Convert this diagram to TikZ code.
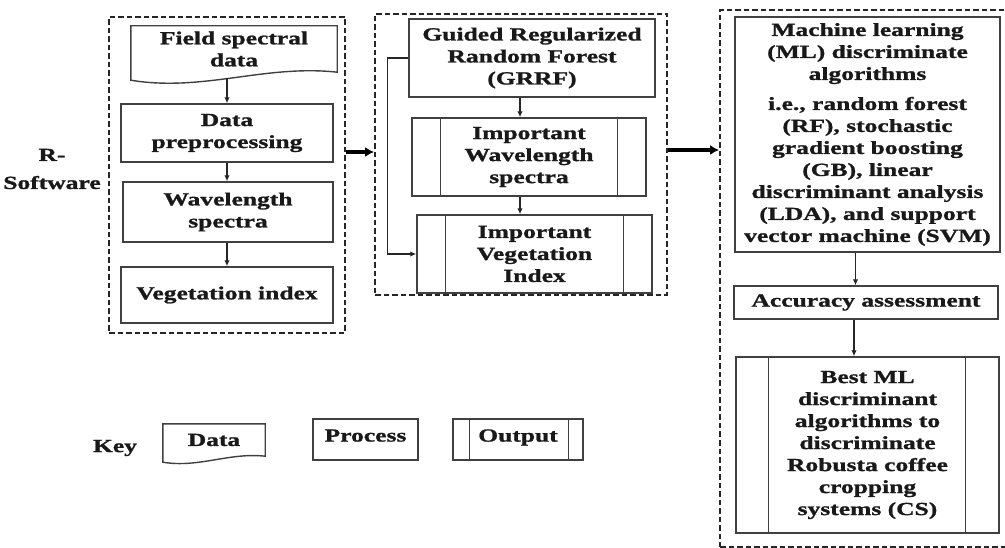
\documentclass[tikz,border=0pt]{standalone}
\usepackage{fontspec}
\setmainfont{Liberation Serif}[FakeStretch=1.38, BoldFeatures={FakeBold=1.2}]
\usetikzlibrary{arrows.meta}
\begin{document}
\begin{tikzpicture}[x=1pt,y=-1pt,
  txt/.style={font=\fontsize{18.5}{22}\selectfont\bfseries, align=center, inner sep=0pt, text=black!90},
  box/.style={txt, draw=black!75, line width=1.4pt},
  ghost/.style={txt, draw=none},
  shapeline/.style={draw=black!75, line width=1.4pt},
  grp/.style={draw=black!85, line width=1.8pt, dash pattern=on 5.5pt off 3pt, inner sep=0pt},
  arr/.style={-{Latex[length=6pt,width=5.5pt]}, line width=1.4pt, black!85},
  bigarr/.style={-{Latex[length=9pt,width=10pt]}, line width=3.8pt}]
\useasboundingbox (0,0) rectangle (1005,548);

% group boxes
\node[grp, minimum width=236pt, minimum height=316pt] (lbox) at (227,175) {};
\node[grp, minimum width=292pt, minimum height=281pt] (mbox) at (521,154.5) {};
\node[grp, minimum width=290pt, minimum height=537pt] (rbox) at (865,278.5) {};

\node[txt] (rs) at (52,169) {R-\\[6pt]Software};

% left column
\node[ghost, minimum width=206pt, minimum height=46pt] (fsd) at (234,49) {Field spectral\\data};
\draw[shapeline] (fsd.north west) -- (fsd.north east) -- (fsd.south east)
  .. controls +(-72,-8) and +(72,12) .. ([yshift=-8pt]fsd.south west) -- cycle;
\node[box, minimum width=212pt, minimum height=58pt] (dp) at (227,133) {Data\\preprocessing};
\node[box, minimum width=210pt, minimum height=60pt] (ws) at (228,212) {Wavelength\\spectra};
\node[box, minimum width=212pt, minimum height=56pt] (vi) at (227,295) {Vegetation index};

\draw[arr] ([yshift=-6pt]fsd.south -| dp.north) -- (dp.north);
\draw[arr] (dp.south) -- (dp.south |- ws.north);
\draw[arr] (ws.south -| vi.north) -- (vi.north);

% middle column
\node[box, minimum width=246pt, minimum height=78pt] (grrf) at (532,58) {Guided Regularized\\Random Forest\\(GRRF)};
\node[box, minimum width=234pt, minimum height=78pt] (iws) at (529,157) {Important\\Wavelength\\spectra};
\draw[shapeline] ([xshift=29pt]iws.north west) -- ([xshift=29pt]iws.south west);
\draw[shapeline] ([xshift=-29pt]iws.north east) -- ([xshift=-29pt]iws.south east);
\node[box, minimum width=235pt, minimum height=78pt] (ivi) at (534.5,254) {Important\\Vegetation\\Index};
\draw[shapeline] ([xshift=29pt]ivi.north west) -- ([xshift=29pt]ivi.south west);
\draw[shapeline] ([xshift=-29pt]ivi.north east) -- ([xshift=-29pt]ivi.south east);

\draw[arr] ([xshift=-9pt]iws.north |- grrf.south) -- ([xshift=-9pt]iws.north);
\draw[arr] ([xshift=-9pt]iws.south) -- ([xshift=-9pt]iws.south |- ivi.north);
\draw[arr] (grrf.west) -- ++(-21,0) |- (ivi.west);

% right column
\node[box, minimum width=265pt, minimum height=235pt] (ml) at (867.5,134.5) {Machine learning\\(ML) discriminate\\algorithms\\[8pt]i.e., random forest\\(RF), stochastic\\gradient boosting\\(GB), linear\\discriminant analysis\\(LDA), and support\\vector machine (SVM)};
\node[box, minimum width=264pt, minimum height=33pt] (aa) at (866,302.5) {Accuracy assessment};
\node[box, minimum width=263pt, minimum height=176pt] (best) at (867.5,445) {Best ML\\discriminant\\algorithms to\\discriminate\\Robusta coffee\\cropping\\systems (CS)};
\draw[shapeline] ([xshift=33pt]best.north west) -- ([xshift=33pt]best.south west);
\draw[shapeline] ([xshift=-34pt]best.north east) -- ([xshift=-34pt]best.south east);

\draw[arr] ([xshift=-12pt]ml.south) -- ([xshift=-12pt]ml.south |- aa.north);
\draw[arr] ([xshift=-12pt]aa.south) -- ([xshift=-12pt]aa.south |- best.north);

% big arrows
\draw[bigarr] ([yshift=23pt]lbox.east) -- ([yshift=23pt]lbox.east -| mbox.west);
\draw[bigarr] ([yshift=4.5pt]mbox.east) -- ([yshift=4.5pt]mbox.east -| rbox.west);

% key
\node[txt] (key) at (115,448) {Key};
\node[ghost, minimum width=102pt, minimum height=32pt] (kd) at (214,440) {Data};
\draw[shapeline] (kd.north west) -- (kd.north east) -- (kd.south east)
  .. controls +(-36,-4) and +(36,6) .. ([yshift=-6pt]kd.south west) -- cycle;
\node[box, minimum width=105pt, minimum height=41pt, text depth=8pt] (kp) at (365.5,439.5) {Process};
\node[box, minimum width=130pt, minimum height=41pt, text depth=8pt] (ko) at (518,439.5) {Output};
\draw[shapeline] ([xshift=17pt]ko.north west) -- ([xshift=17pt]ko.south west);
\draw[shapeline] ([xshift=-15pt]ko.north east) -- ([xshift=-15pt]ko.south east);
\end{tikzpicture}
\end{document}
